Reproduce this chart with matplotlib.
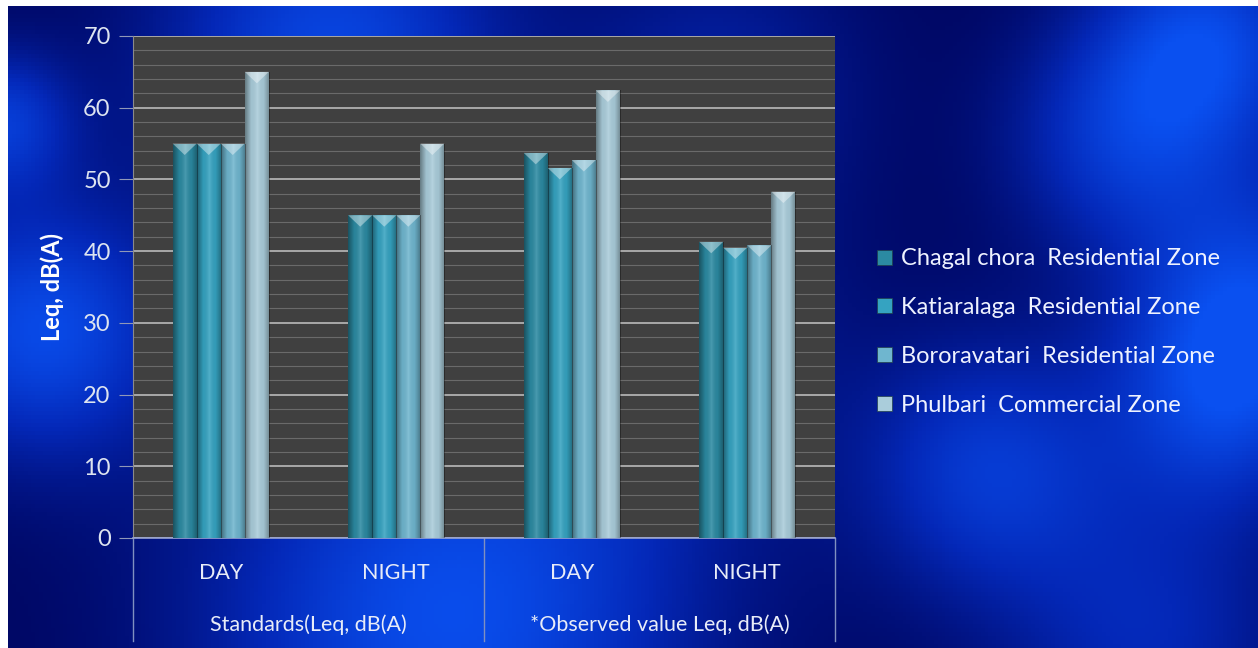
import numpy as np
import matplotlib.pyplot as plt
from matplotlib.colors import LinearSegmentedColormap
from matplotlib.patches import Polygon, Patch

# data
periods = ['DAY', 'NIGHT', 'DAY', 'NIGHT']
groups = ['Standards(Leq, dB(A)', '*Observed value Leq, dB(A)']
zones = ['Chagal chora  Residential Zone', 'Katiaralaga  Residential Zone',
         'Bororavatari  Residential Zone', 'Phulbari  Commercial Zone']
chagal = [55, 45, 53.7, 41.3]
katiaralaga = [55, 45, 51.6, 40.5]
bororavatari = [55, 45, 52.7, 40.8]
phulbari = [65, 55, 62.4, 48.3]
series = [chagal, katiaralaga, bororavatari, phulbari]

colores = ['#2b8aa2', '#35a3c1', '#6fb6cf', '#aacddb']
plt.rcParams['font.family'] = ['Lato', 'DejaVu Sans']

fig = plt.figure(figsize=(12.58, 6.48), dpi=100)

# blue swirly background (pixel grid of the figure)
bg = fig.add_axes([8 / 1258, 0, 1 - 8 / 1258, 1 - 6 / 648], zorder=-10)
yy, xx = np.mgrid[6:648:160j, 8:1258:320j]
blobs = [(330, 50, 120, 0.85), (0, 120, 50, 0.7), (40, 330, 90, 0.9), (450, 620, 170, 0.95),
         (1210, 40, 80, 0.85), (1258, 300, 90, 0.8), (1120, 140, 80, 0.6), (990, 470, 90, 0.7),
         (1220, 410, 80, 0.6), (640, 330, 120, 0.45), (720, 80, 100, 0.35), (1150, 640, 100, 0.5)]
field = np.zeros_like(xx)
for bx, by, s, a in blobs:
    field += a * np.exp(-((xx - bx) ** 2 + (yy - by) ** 2) / (2 * s ** 2))
field = np.clip(field, 0, 1)
cmap_bg = LinearSegmentedColormap.from_list('bg', ['#000866', '#0428b8', '#0a50f0'])
bg.imshow(field, cmap=cmap_bg, aspect='auto', origin='upper')
bg.axis('off')

ax = fig.add_axes([0.1057, 0.1698, 0.5581, 0.7747])
ax.set_facecolor('#404040')

x = np.arange(len(periods))
width = 0.137
grad = np.linspace(0, 1, 64)[None, :]
shade = LinearSegmentedColormap.from_list('shade', [(0, 0, 0, 0.4), (0, 0, 0, 0.05), (1, 1, 1, 0.15),
                                                     (0, 0, 0, 0.05), (0, 0, 0, 0.35)])
for i, vals in enumerate(series):
    pos = x + (i - 1.5) * width
    bars = ax.bar(pos, vals, width=width, color=colores[i], zorder=3)
    for b in bars:
        bx0, bw, bh = b.get_x(), b.get_width(), b.get_height()
        im = ax.imshow(grad, cmap=shade, aspect='auto', zorder=4,
                       extent=[bx0, bx0 + bw, 0, bh])
        im.set_clip_path(b)
        tri = Polygon([[bx0, bh], [bx0 + bw, bh], [bx0 + bw / 2, bh - 1.6]],
                      closed=True, facecolor='white', alpha=0.4, edgecolor='none', zorder=5)
        ax.add_patch(tri)

ax.set_xlim(-0.5, 3.5)
ax.set_ylim(0, 70)
ax.set_yticks(np.arange(0, 71, 10))
ax.set_yticks(np.arange(0, 71, 2), minor=True)
ax.grid(axis='y', which='major', color='#a8a8a8', lw=1.4, zorder=1)
ax.grid(axis='y', which='minor', color='#6a6a6a', lw=0.8, zorder=1)
ax.tick_params(axis='y', which='major', length=10, color='#9098b8', labelcolor='#dde4f0',
               labelsize=17, pad=6)
ax.tick_params(axis='y', which='minor', length=0)
ax.set_xticks([])
for s in ['top', 'right']:
    ax.spines[s].set_visible(False)
ax.spines['left'].set_color('#8a8a8a')
ax.spines['bottom'].set_color('#9aa4d0')
ax.spines['bottom'].set_linewidth(1.2)
ax.set_ylabel('Leq, dB(A)', color='white', fontsize=17, fontweight='bold', labelpad=14)

# two-level category labels
tr = ax.get_xaxis_transform()
for xi, p in zip(x, periods):
    ax.text(xi, -0.07, p, transform=tr, ha='center', va='center', color='#e8ecf8', fontsize=15.5)
for gi, g in enumerate(groups):
    ax.text(gi * 2 + 0.5, -0.173, g, transform=tr, ha='center', va='center', color='#e8ecf8', fontsize=15.5)
for xs in [-0.5, 1.5, 3.5]:
    ax.plot([xs, xs], [0, -0.205], transform=tr, color='#8090c0', lw=1, clip_on=False)

handles = [Patch(facecolor=c, edgecolor='#20404a', lw=0.5) for c in colores]
leg = ax.legend(handles, zones, loc='center left', bbox_to_anchor=(1.03, 0.41), frameon=False,
                fontsize=17, labelspacing=1.18, handlelength=0.6, handleheight=0.6,
                handletextpad=0.4)
for t in leg.get_texts():
    t.set_color('#eef2ff')

plt.savefig('out.png', dpi=100)
